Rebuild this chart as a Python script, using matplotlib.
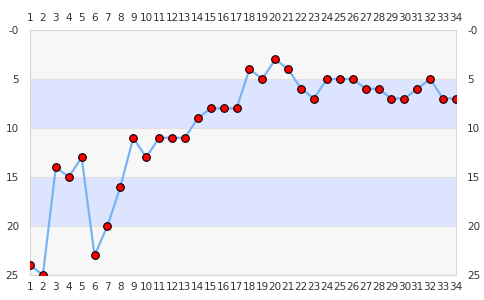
import matplotlib.pyplot as plt

positions = list(range(1, 35))
ranks = [24, 25, 14, 15, 13, 23, 20, 16, 11, 13, 11, 11, 11, 9, 8, 8, 8,
         4, 5, 3, 4, 6, 7, 5, 5, 5, 6, 6, 7, 7, 6, 5, 7, 7]
y_ticks = [0, 5, 10, 15, 20, 25]
y_labels = ["-0", "5", "10", "15", "20", "25"]

fig = plt.figure(figsize=(4.85, 3.0), dpi=100)
ax = fig.add_axes([30 / 485, 1 - 275 / 300, 426 / 485, 245 / 300])

# alternating bands
for i in range(5):
    color = "#f7f7f7" if i % 2 == 0 else "#dde4ff"
    ax.axhspan(i * 5, i * 5 + 5, color=color, zorder=0, lw=0)
for yv in [5, 10, 15, 20]:
    ax.axhline(yv, color="#e2e2e2", lw=0.8, zorder=1)

ax.plot(positions, ranks, color="#78b4f2", lw=1.6, zorder=2)
ax.plot(positions, ranks, "o", ms=5.5, mfc="red", mec="black", mew=0.8, zorder=3)

ax.set_xlim(1, 34)
ax.set_ylim(25, 0)
ax.set_xticks(positions)
ax.set_yticks(y_ticks)
ax.set_yticklabels(y_labels)
ax.tick_params(axis="both", length=0, labelsize=7.5, colors="#333333",
               top=True, labeltop=True, right=True, labelright=True)
ax.tick_params(axis="x", pad=5)
ax.tick_params(axis="y", pad=8)
for s in ax.spines.values():
    s.set_color("#d8d8d8")
    s.set_linewidth(0.8)

plt.savefig("out.png", dpi=100)
